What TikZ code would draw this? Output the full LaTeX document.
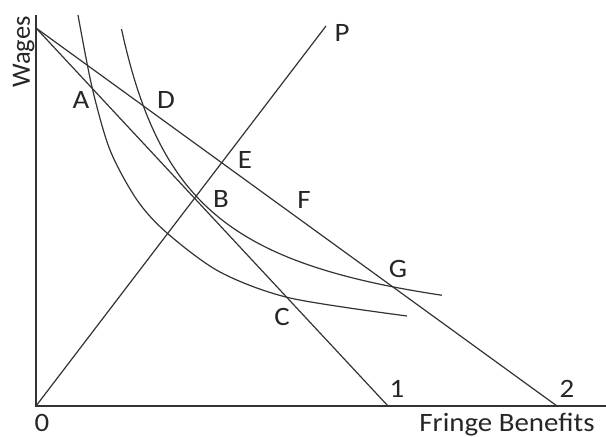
\documentclass[tikz,border=0pt]{standalone}
\usepackage{fontspec}
\setmainfont{Carlito}
\newfontfamily\labfont[FakeStretch=1.09]{Carlito}
\begin{document}
\begin{tikzpicture}[x=1pt,y=-1pt,
  axis/.style={line width=1.7pt, draw=black!80},
  curve/.style={line width=1.2pt, draw=black!80},
  lab/.style={font=\labfont\fontsize{26.5}{30}\selectfont, anchor=base, inner sep=0pt, text=black!85}]
\useasboundingbox (0,0) rectangle (606,437);
\coordinate (O) at (36,406);
\coordinate (Ytop) at (36,15);
\coordinate (Xend) at (606,406);
\coordinate (S) at (36,28);
\coordinate (E1) at (388,406);
\coordinate (E2) at (557,406);
\coordinate (Ptop) at (326,26);
\draw[axis] (Ytop) -- (O) -- (Xend);
\draw[curve] (S) -- (E1);
\draw[curve] (S) -- (E2);
\draw[curve] (O) -- (Ptop);
\draw[curve] plot[smooth] coordinates {(78,15) (92,87) (110,150) (137,200) (167,233) (220,272) (290,298) (407,316)};
\draw[curve] plot[domain=121.5:442, samples=120] (\x, {353.8-228.93/((\x-51)/100)});
\node[lab] (A) at (81,108) {A};
\node[lab] (D) at (166,108) {D};
\node[lab] (E) at (245,168) {E};
\node[lab] (B) at (221,207) {B};
\node[lab] (F) at (304,208) {F};
\node[lab] (G) at (398,277) {G};
\node[lab] (C) at (282,325) {C};
\node[lab] (P) at (342,41) {P};
\node[lab] (one) at (397,397) {1};
\node[lab] (two) at (567,397) {2};
\node[lab] (zero) at (42,431) {0};
\node[lab] (fb) at (507,431) {Fringe Benefits};
\node[font=\fontsize{26.5}{30}\selectfont, anchor=base, inner sep=0pt, text=black!85, rotate=90] (wages) at (30,52) {Wages};
\end{tikzpicture}
\end{document}
